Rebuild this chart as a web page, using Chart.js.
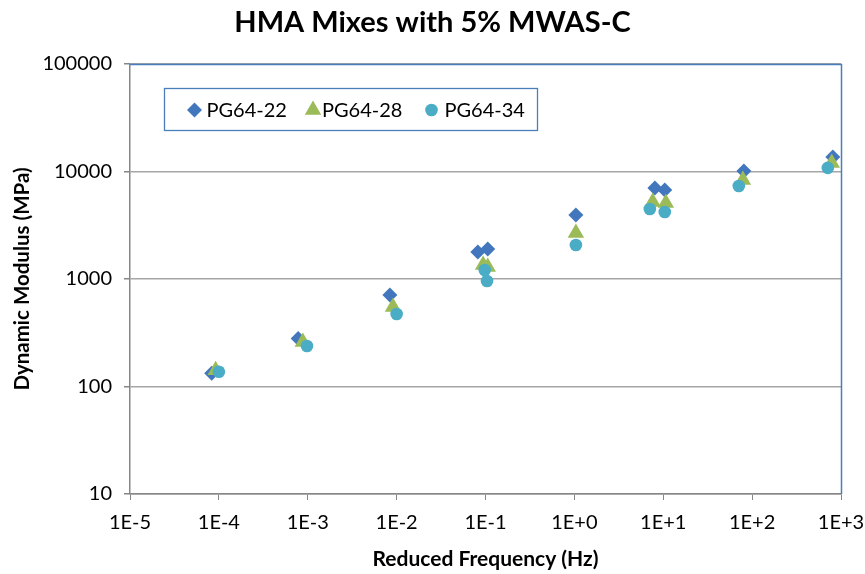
<!DOCTYPE html>
<html><head><meta charset="utf-8">
<script src="https://cdn.jsdelivr.net/npm/chart.js@4.4.1/dist/chart.umd.min.js"></script>
<style>html,body{margin:0;padding:0;background:#fff;}#wrap{width:865px;height:574px;position:relative}</style>
</head><body><div id="wrap"><canvas id="c" width="865" height="574"></canvas></div>
<script>
const chartTitle = 'HMA Mixes with 5% MWAS-C';
const xTitle = 'Reduced Frequency (Hz)';
const yTitle = 'Dynamic Modulus (MPa)';
const seriesNames = ['PG64-22', 'PG64-28', 'PG64-34'];
const seriesColors = ['#4377bd', '#9bbb59', '#4bacc6'];
const seriesShapes = ['rectRot', 'triangle', 'circle'];
const seriesRadii = [7.5, 9.5, 6.3];

const freq22 = [8.3e-5, 7.8e-4, 8.4e-3, 0.082, 0.106, 1.04, 8.05, 10.4, 80.7, 809];
const mod22  = [133, 280, 710, 1783, 1900, 3940, 7030, 6730, 10100, 13650];
const freq28 = [9.2e-5, 8.8e-4, 9.1e-3, 0.094, 0.106, 1.04, 7.6, 10.7, 78.7, 787];
const mod28  = [142, 259, 549, 1349, 1293, 2680, 5200, 5090, 8340, 12000];
const freq34 = [1.0e-4, 9.8e-4, 1.0e-2, 0.098, 0.104, 1.04, 7.06, 10.4, 70.8, 710];
const mod34  = [137, 238, 472, 1213, 958, 2070, 4480, 4200, 7330, 10800];

const xTicks = [1e-5, 1e-4, 1e-3, 1e-2, 1e-1, 1e0, 1e1, 1e2, 1e3];
const yTicks = [10, 100, 1000, 10000, 100000];

const seriesX = [freq22, freq28, freq34];
const seriesY = [mod22, mod28, mod34];

const FONT = 'Lato';
const fmtX = v => { const e = Math.round(Math.log10(v)); return '1E' + (e >= 0 ? '+' : '-') + Math.abs(e); };

const datasets = seriesNames.map((name, i) => ({
  label: name,
  data: seriesX[i].map((x, j) => ({ x: x, y: seriesY[i][j] })),
  pointStyle: seriesShapes[i],
  pointRadius: seriesRadii[i],
  pointHoverRadius: seriesRadii[i],
  pointBackgroundColor: seriesColors[i],
  pointBorderColor: seriesColors[i],
  pointBorderWidth: 0,
  backgroundColor: seriesColors[i],
  borderColor: seriesColors[i],
  showLine: false,
  clip: false,
  order: seriesNames.length - i
}));

const framePlugin = {
  id: 'frame',
  afterDraw(chart) {
    const ctx = chart.ctx, a = chart.chartArea;
    ctx.save();
    ctx.strokeStyle = '#4a7ebb';
    ctx.lineWidth = 1.5;
    ctx.beginPath();
    ctx.moveTo(a.left, a.top + 0.5);
    ctx.lineTo(a.right + 0.5, a.top + 0.5);
    ctx.lineTo(a.right + 0.5, a.bottom);
    ctx.stroke();

    // floating legend inside the plot area
    const bx = a.left + 34.5, by = a.top + 24.5, bw = 373, bh = 42;
    ctx.fillStyle = '#fff';
    ctx.fillRect(bx, by, bw, bh);
    ctx.strokeStyle = '#4a7ebb';
    ctx.lineWidth = 1.3;
    ctx.strokeRect(bx, by, bw, bh);
    const cy = by + bh / 2 + 0.5;
    const slotStart = bx + 30, slotW = 118.5;
    const textGap = [12, 9, 13];
    ctx.font = '20px ' + FONT;
    ctx.textBaseline = 'middle';
    ctx.textAlign = 'left';
    chart.data.datasets.forEach((ds, i) => {
      const mx = slotStart + i * slotW;
      ctx.fillStyle = ds.pointBackgroundColor;
      ctx.strokeStyle = ds.pointBackgroundColor;
      Chart.helpers.drawPoint(ctx, { pointStyle: ds.pointStyle, rotation: 0, borderWidth: 0, radius: ds.pointRadius }, mx, cy);
      ctx.fillStyle = '#000';
      ctx.fillText(ds.label, mx + textGap[i], cy + 1);
    });
    ctx.restore();
  }
};

new Chart(document.getElementById('c'), {
  type: 'scatter',
  data: { datasets },
  plugins: [framePlugin],
  options: {
    responsive: false,
    animation: false,
    devicePixelRatio: 1,
    layout: { padding: { left: 0, right: 0, top: 0, bottom: 0 } },
    plugins: {
      legend: { display: false },
      tooltip: { enabled: false },
      title: {
        display: true, text: chartTitle, color: '#000',
        font: { family: FONT, size: 29, weight: 'bold' },
        padding: { top: 5, bottom: 24.2 }
      }
    },
    scales: {
      x: {
        type: 'logarithmic', min: 1e-5, max: 1e3,
        afterBuildTicks: s => { s.ticks = xTicks.map(v => ({ value: v })); },
        afterFit: s => { s.height = 80; s.paddingRight = 24; s.paddingLeft = 0; },
        ticks: { callback: v => fmtX(v), color: '#000', font: { family: FONT, size: 20 }, padding: 11, maxRotation: 0, autoSkip: false },
        grid: { drawOnChartArea: false, drawTicks: true, tickLength: 6, color: '#868686' },
        border: { color: '#868686', width: 1.5 },
        title: { display: true, text: xTitle, color: '#000', font: { family: FONT, size: 21, weight: 'bold' }, padding: { top: 0, bottom: 2 } }
      },
      y: {
        type: 'logarithmic', min: 10, max: 100000,
        afterBuildTicks: s => { s.ticks = yTicks.map(v => ({ value: v })); },
        afterFit: s => { s.width = 130; },
        ticks: { callback: v => String(v), color: '#000', font: { family: FONT, size: 20 }, padding: 12, autoSkip: false },
        grid: { color: '#a6a6a6', lineWidth: 1.5, drawTicks: true, tickLength: 6, tickColor: '#868686' },
        border: { color: '#868686', width: 1.5 },
        title: { display: true, text: yTitle, color: '#000', font: { family: FONT, size: 20.5, weight: 'bold' }, padding: { top: 10, bottom: 0 } }
      }
    }
  }
});
</script></body></html>
